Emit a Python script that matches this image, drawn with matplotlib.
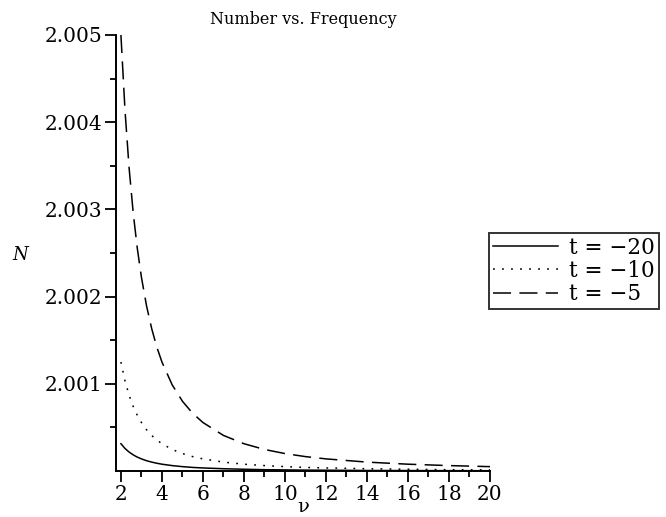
import matplotlib; matplotlib.use("Agg")
import matplotlib.pyplot as plt
import numpy as np

plt.rcParams["font.family"] = ["DejaVu Serif"]
plt.rcParams["lines.scale_dashes"] = False

# frequency samples (nu) and N - 2, in units of 1e-3
nu = [2, 2.2, 2.4, 2.6, 2.8, 3, 3.25, 3.5, 3.75, 4, 4.5, 5, 5.5, 6, 7, 8, 9,
      10, 11, 12, 14, 16, 18, 20]
n_t20 = [0.313, 0.258, 0.217, 0.185, 0.159, 0.139, 0.118, 0.102, 0.089, 0.078,
         0.062, 0.050, 0.041, 0.035, 0.026, 0.020, 0.015, 0.0125, 0.010, 0.009,
         0.006, 0.005, 0.004, 0.003]
n_t10 = [1.250, 1.033, 0.868, 0.740, 0.638, 0.556, 0.473, 0.408, 0.356, 0.313,
         0.247, 0.200, 0.165, 0.139, 0.102, 0.078, 0.062, 0.050, 0.041, 0.035,
         0.026, 0.020, 0.015, 0.0125]
n_t5 = [5.000, 4.132, 3.472, 2.959, 2.551, 2.222, 1.893, 1.633, 1.422, 1.250,
        0.988, 0.800, 0.661, 0.556, 0.408, 0.313, 0.247, 0.200, 0.165, 0.139,
        0.102, 0.078, 0.062, 0.050]
labels = ["t = \u221220", "t = \u221210", "t = \u22125"]

fig = plt.figure(figsize=(6.66, 5.17), dpi=100)
ax = fig.add_axes([116/666, 1-471/517, (490-116)/666, (471-35)/517])

x = np.array(nu)
styles = ["-", (0, (1.3, 5.2)), (0, (13, 6))]
for ys, ls, lab in zip([n_t20, n_t10, n_t5], styles, labels):
    ax.plot(x, 2 + np.array(ys)*1e-3, color="black", lw=1.1, ls=ls, label=lab)

ax.set_xlim(1.76, 20)
ax.set_ylim(2.0, 2.005)
ax.set_xticks(np.arange(2, 21, 2))
ax.set_xticks(np.arange(3, 20, 2), minor=True)
ax.set_yticks([2.001, 2.002, 2.003, 2.004, 2.005])
ax.set_yticks([2.0005, 2.0015, 2.0025, 2.0035, 2.0045], minor=True)
ax.set_yticklabels(["2.001", "2.002", "2.003", "2.004", "2.005"])
ax.tick_params(labelsize=14.5, width=1.3, length=8, direction="out", pad=2)
ax.tick_params(which="minor", width=1.3, length=4)
for s in ("top", "right"): ax.spines[s].set_visible(False)
for s in ("left", "bottom"): ax.spines[s].set_linewidth(1.4)

ax.set_title("Number vs. Frequency", fontsize=11.5, pad=8)
ax.set_xlabel("\u03bd", fontsize=14, labelpad=-4)
fig.text(20/666, 1-255/517, "N", fontsize=13, style="italic", ha="center", va="center")

leg = fig.legend(loc="center left", bbox_to_anchor=(489/666, 1-271/517), fontsize=15.5,
                 frameon=True, fancybox=False, edgecolor="black", handlelength=3.0,
                 borderpad=0.2, labelspacing=0.05, handletextpad=0.5, borderaxespad=0)
leg.get_frame().set_linewidth(1.4)

fig.savefig("out.png", dpi=100, facecolor="white")
